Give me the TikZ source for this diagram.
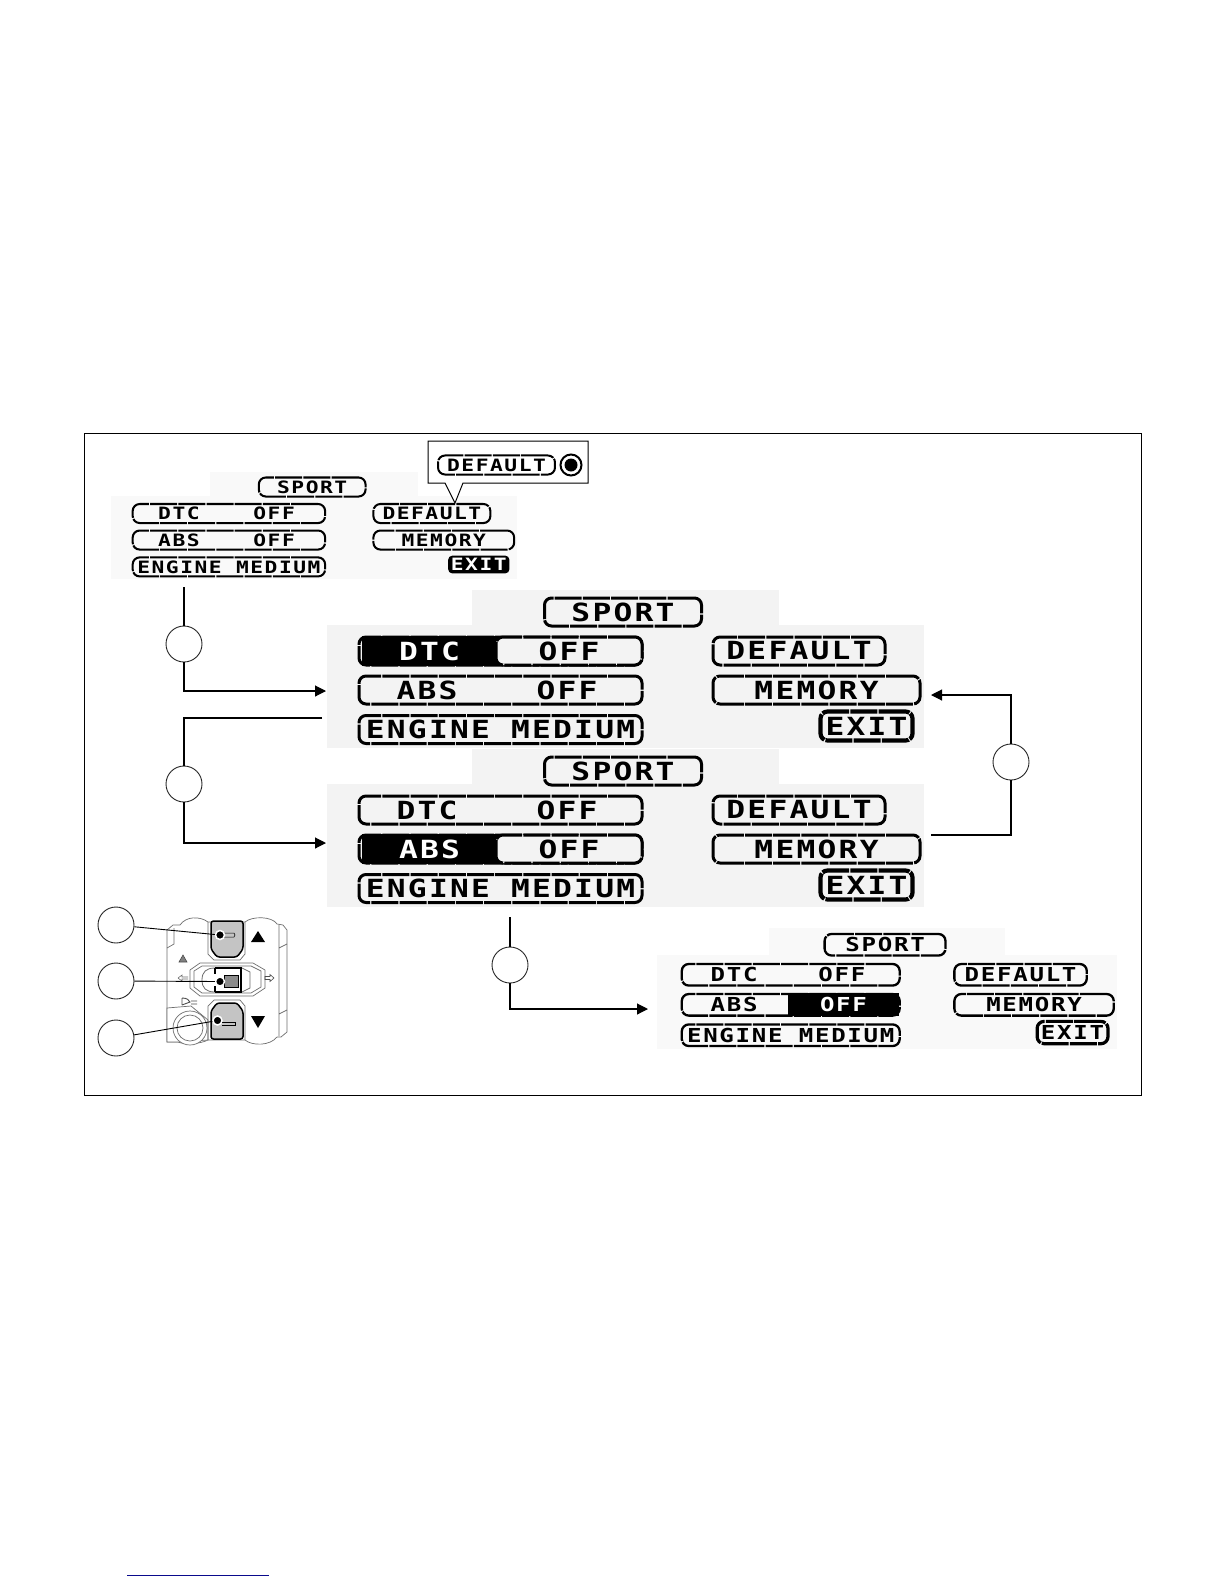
\documentclass[tikz,border=0pt]{standalone}
\usepackage{fontspec}
\usepackage{xcolor}
\usepackage{tikz}
\usetikzlibrary{arrows.meta, positioning, calc}
\newfontfamily\lcdfont[FakeStretch=1.25, LetterSpace=9]{DejaVu Sans Mono Bold}
\definecolor{gridbig}{RGB}{243, 243, 243}
\definecolor{gridsmall}{RGB}{249, 249, 249}
\definecolor{swgrey}{RGB}{196, 196, 196}
\definecolor{swline}{RGB}{110, 110, 110}
\definecolor{linkblue}{RGB}{10, 10, 140}

% one display: name, origin, scale, grid colour, extra nodes drawn over it
\newcommand{\lcdscreen}[5]{
  \pgfmathsetlengthmacro{\lcdlw}{3pt*#3}
  \colorlet{lcdgrid}{#4}
  \begin{scope}[shift={(#2)}, scale=#3, transform shape]
    \fill[lcdgrid] (114,-47) rectangle (421,-12);
    \fill[lcdgrid] (-31,-12) rectangle (566,111);
    \node[pill, minimum width=157pt] (#1sport) at (265,-25) {SPORT};
    \node[pill, minimum width=283pt] (#1dtc) at (142.5,14) {};
    \node[pill, minimum width=283pt] (#1abs) at (142.5,53) {};
    \node[pill, minimum width=283pt] (#1engine) at (142.5,92.5) {ENGINE MEDIUM};
    \node[lcdtext] (#1dtclabel) at (69,14) {DTC};
    \node[lcdtext] (#1dtcoff) at (209,14) {OFF};
    \node[lcdtext] (#1abslabel) at (69,53) {ABS};
    \node[lcdtext] (#1absoff) at (209,53) {OFF};
    \node[pill, minimum width=172pt] (#1default) at (441,14) {DEFAULT};
    \node[pill, minimum width=207pt] (#1memory) at (458.5,53) {MEMORY};
    #5
  \end{scope}
}

\begin{document}
\begin{tikzpicture}[
    x=1pt, y=-1pt,
    lcdtext/.style = {font=\lcdfont\fontsize{25}{25}\selectfont, inner sep=0pt},
    pill/.style = {lcdtext, draw=black, fill=none, rounded corners=7pt, line width=\lcdlw,
                   dash pattern=on 27pt off 1.2pt, minimum height=28pt},
    exitpill/.style = {pill, minimum width=92pt, minimum height=29pt, line width=1.4*\lcdlw},
    lcdbar/.style = {lcdtext, fill=black, text=white, minimum height=30pt},
    stepmark/.style = {circle, draw=black!85, fill=white, line width=0.9pt, minimum size=36pt, inner sep=0pt},
    link/.style = {line width=1.1pt, color=black},
    arrow/.style = {link, -{Triangle[length=11pt, width=11pt]}},
    swdot/.style = {circle, fill=black, draw=white, line width=1.5pt, minimum size=9pt, inner sep=0pt},
    swbody/.style = {draw=swline, line width=0.7pt, fill=white},
    swbutton/.style = {draw=black, fill=swgrey, line width=1.5pt, rounded corners=2.5pt}
]
  \useasboundingbox (0,0) rectangle (1224,1584);
  \draw[line width=1pt] (84.5,433.5) rectangle (1141.5,1095);
  \draw[linkblue, line width=1pt] (127,1575) -- (269,1575);

  \lcdscreen{top}{132,504}{0.68}{gridsmall}{
    \node[lcdbar, rounded corners=4pt, minimum width=90pt, minimum height=26pt] (topexit) at (510,89) {EXIT};
  }
  \lcdscreen{dtc}{358,637}{1}{gridbig}{
    \node[lcdbar, minimum width=135pt] (dtcsel) at (71.5,14) {DTC};
    \node[pill, fill=lcdgrid, minimum width=146pt] (dtcvalue) at (211,14) {OFF};
    \node[exitpill] (dtcexit) at (508.5,89) {EXIT};
  }
  \lcdscreen{abs}{358,796}{1}{gridbig}{
    \node[lcdbar, minimum width=135pt] (abssel) at (71.5,53) {ABS};
    \node[pill, fill=lcdgrid, minimum width=146pt] (absvalue) at (211,53) {OFF};
    \node[exitpill] (absexit) at (508.5,89) {EXIT};
  }
  \lcdscreen{off}{681,964}{0.77}{gridsmall}{
    \node[lcdbar, minimum width=144pt] (offsel) at (211,53) {OFF};
    \node[exitpill] (offexit) at (508.5,89) {EXIT};
  }

  % callout over the small display
  \draw[fill=white, line width=1pt] (428,441) -- (588,441) -- (588,483) -- (463,483) -- (455,503)
    -- (445,483) -- (428,483) -- cycle;
  \pgfmathsetlengthmacro{\lcdlw}{2pt}
  \node[pill, scale=0.68, transform shape, minimum width=172pt] (hintdefault) at (496.5,465) {DEFAULT};
  \node[circle, draw=black, line width=2pt, minimum size=21pt, inner sep=0pt] (hintring) at (571,465) {};
  \node[circle, fill=black, minimum size=13pt, inner sep=0pt] (hintdot) at (571,465) {};

  % connectors
  \node[stepmark] (marka) at (184,644) {};
  \node[stepmark] (markb) at (184,784) {};
  \node[stepmark] (markc) at (1011,762) {};
  \node[stepmark] (markd) at (510,965) {};
  \coordinate (froma) at (184,587);
  \coordinate (toa) at (326,691);
  \coordinate (fromb) at (322,718);
  \coordinate (tob) at (326,843);
  \coordinate (fromc) at (931,835);
  \coordinate (toc) at (931,695);
  \coordinate (fromd) at (510,917);
  \coordinate (tod) at (648,1009);
  \draw[link] (froma) -- (marka);
  \draw[arrow] (marka) |- (toa);
  \draw[link] (fromb) -| (markb);
  \draw[arrow] (markb) |- (tob);
  \draw[link] (fromc) -| (markc);
  \draw[arrow] (markc) |- (toc);
  \draw[link] (fromd) -- (markd);
  \draw[arrow] (markd) |- (tod);

  % handlebar switch
  \draw[swbody] (167,1042) -- (167,930) -- (173,925) -- (180,925) .. controls (186,916) and (200,916) .. (208,922)
    -- (245,922) .. controls (252,916) and (272,916) .. (277,924) -- (283,925) -- (287,930) -- (287,1032)
    -- (281,1037) -- (277,1037) .. controls (270,1046) and (252,1046) .. (245,1040) -- (208,1040)
    .. controls (200,1044) and (185,1045) .. (178,1042) -- cycle;
  \draw[swline, line width=0.7pt] (279,925) -- (279,1036) (279,948) -- (287,944) (279,1014) -- (287,1010)
    (167,948) -- (174,944) -- (174,928);
  \draw[swbody] (167,1008) -- (191,1006) -- (208,1020) -- (208,1040) -- (178,1042) -- (167,1042) -- cycle;
  \node[circle, draw=swline, line width=0.7pt, fill=white, minimum size=34pt, inner sep=0pt] (keyouter) at (190,1028) {};
  \node[circle, draw=swline, line width=0.7pt, minimum size=26pt, inner sep=0pt] (keyinner) at (190,1028) {};
  \draw[swline, line width=0.7pt] (208,922) -- (208,954) -- (214,960) -- (240,960) -- (245,954) -- (245,922);
  \draw[swline, line width=0.7pt] (208,1040) -- (208,1006) -- (214,1000) -- (240,1000) -- (245,1006) -- (245,1040);
  \draw[swbutton] (211,921) -- (243,921) -- (243,949) -- (237,957) -- (217,957) -- (211,949) -- cycle;
  \draw[swbutton] (217,1003) -- (237,1003) -- (243,1011) -- (243,1039) -- (211,1039) -- (211,1011) -- cycle;
  \draw[black, line width=0.5pt] (222,933) -- (234,933) -- (235,935) -- (234,937) -- (222,937);
  \draw[black, line width=0.5pt] (222,1022) -- (235,1022) -- (235,1025) -- (222,1025);
  \fill (258,931) -- (265,942) -- (251,942) -- cycle;
  \fill (251,1016) -- (265,1016) -- (258,1028) -- cycle;
  \draw[swbody] (190,970) -- (200,963) -- (253,963) -- (265,970) -- (265,988) -- (253,996) -- (200,996) -- (190,988) -- cycle;
  \draw[swbody] (194,971) -- (202,966) -- (251,966) -- (261,971) -- (261,987) -- (251,993) -- (202,993) -- (194,987) -- cycle;
  \draw[swbody, line width=0.8pt] (202,980) .. controls (202,972) and (206,968) .. (215,968) -- (242,968)
    -- (250,972) -- (250,988) -- (242,992) -- (215,992) .. controls (206,992) and (202,988) .. (202,980);
  \draw[black, line width=1pt, fill=black!45] (224,975) rectangle (238,987);
  \draw[black, line width=1.2pt] (215,968) -- (242,968) (215,992) -- (242,992) (215,968) -- (215,974) (215,986) -- (215,992);
  \draw[black, line width=2.2pt] (241,968) -- (241,992);
  \draw[black!70, line width=0.6pt, fill=black!50] (183,955) -- (187,962) -- (179,962) -- cycle;
  \draw[swline, line width=0.6pt] (178,978) -- (182,975) -- (182,977) -- (188,977) (178,978) -- (182,981) -- (182,979) -- (188,979);
  \draw[black!70, line width=0.6pt] (265,976.5) -- (270,976.5) -- (270,974.5) -- (274,978) -- (270,981.5) -- (270,979.5) -- (265,979.5) -- cycle;
  \draw[black!70, line width=0.9pt] (182,998) -- (182,1005) (182,998) .. controls (187,998) and (189,1000) .. (190,1002) -- (182,1005)
    (191,1001) -- (197,1001) (191,1004) -- (197,1004);

  % callouts to the switch
  \node[stepmark] (marke) at (116,925) {};
  \node[stepmark] (markf) at (116,981) {};
  \node[stepmark] (markg) at (116,1038) {};
  \node[swdot] (dote) at (220,935) {};
  \node[swdot] (dotf) at (220,981.5) {};
  \node[swdot] (dotg) at (217.5,1020.5) {};
  \draw[line width=0.9pt] (marke) -- (dote);
  \draw[line width=0.9pt] (markf) -- (dotf);
  \draw[line width=0.9pt] (markg) -- (dotg);
\end{tikzpicture}
\end{document}
